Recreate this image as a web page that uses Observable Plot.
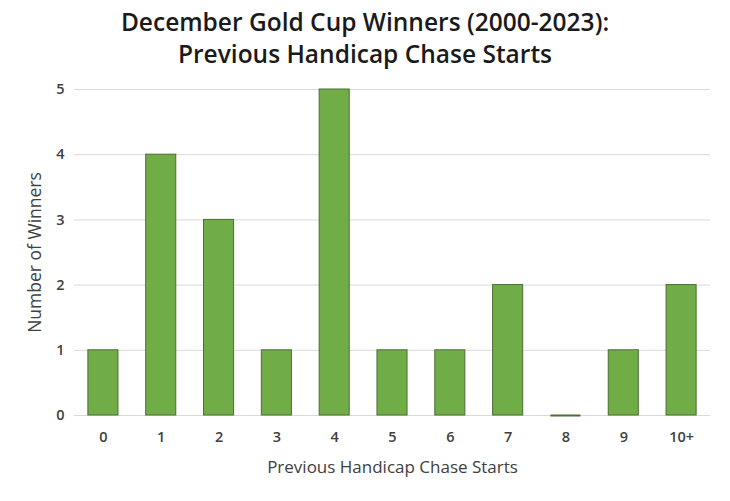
<!DOCTYPE html>
<html>
<head>
<meta charset="utf-8">
<script src="https://cdn.jsdelivr.net/npm/d3@7"></script>
<script src="https://cdn.jsdelivr.net/npm/@observablehq/plot@0.6"></script>
<style>
  body { margin: 0; background: #fff; font-family: "Open Sans", sans-serif; }
  #title { width: 730px; height: 75px; text-align: center; font-weight: 600; font-size: 24.5px; line-height: 32px; color: #1a1a1a; padding-top: 6px; box-sizing: border-box; }
</style>
</head>
<body>
<div id="title">December Gold Cup Winners (2000-2023):<br>Previous Handicap Chase Starts</div>
<div id="chart"></div>
<script>
const categories = ["0", "1", "2", "3", "4", "5", "6", "7", "8", "9", "10+"];
const winners = [1, 4, 3, 1, 5, 1, 1, 2, 0, 1, 2];
const yTicks = [0, 1, 2, 3, 4, 5];

const data = categories.map((c, i) => ({cat: c, n: winners[i]}));

const chart = Plot.plot({
  width: 730,
  height: 426,
  marginLeft: 74,
  marginRight: 20,
  marginTop: 14,
  marginBottom: 86,
  style: {fontFamily: "Open Sans, sans-serif", fontSize: "14px", color: "#404040", background: "#fff"},
  x: {domain: categories, paddingInner: 0.48, paddingOuter: 0.24, round: false},
  y: {domain: [0, 5]},
  marks: [
    Plot.gridY(yTicks, {stroke: "#d9d9d9", strokeOpacity: 1}),
    Plot.barY(data, {x: "cat", y: "n", fill: "#70ad47", stroke: "#4a6e33", strokeWidth: 1}),
    Plot.tickY(data.filter(d => d.n === 0), {x: "cat", y: "n", stroke: "#4a6e33", strokeWidth: 2}),
    Plot.axisY(yTicks, {tickSize: 0, tickPadding: 10, tickFormat: "d", fontSize: 14.5, fontWeight: 600, fill: "#404040", label: null}),
    Plot.text(["Number of Winners"], {frameAnchor: "left", textAnchor: "middle", dx: -39, rotate: -90, fontSize: 17.5, fontWeight: 500, fill: "#404040"}),
    Plot.axisX({tickSize: 0, tickPadding: 16, fontSize: 14.5, fontWeight: 600, fill: "#404040", label: null}),
    Plot.text(["Previous Handicap Chase Starts"], {frameAnchor: "bottom", textAnchor: "middle", dy: 57, fontSize: 17, fontWeight: 500, fill: "#404040"})
  ]
});
document.getElementById("chart").appendChild(chart);
</script>
</body>
</html>
